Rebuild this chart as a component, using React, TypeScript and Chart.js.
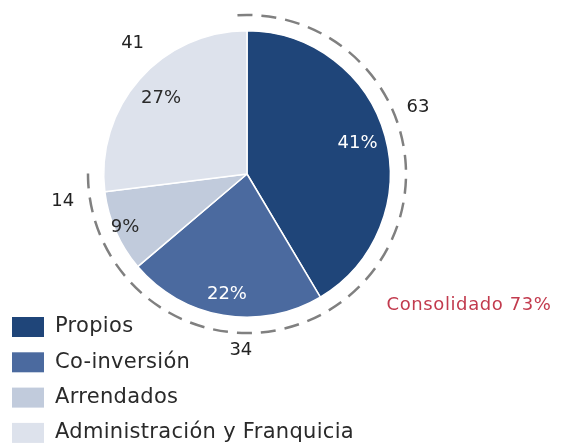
import React, { useEffect, useRef } from "react";
import { Chart, registerables } from "chart.js";

Chart.register(...registerables);

// ---- data ----
const categories = ["Propios", "Co-inversión", "Arrendados", "Administración y Franquicia"];
const values = [63, 34, 14, 41];
const percentLabels = ["41%", "22%", "9%", "27%"];
const consolidatedLabel = "Consolidado 73%";
const consolidatedSlices = 3;

// ---- styles ----
const colors = ["#1f4579", "#4b6a9f", "#c1cbdc", "#dde2ec"];
const percentColors = ["#ffffff", "#ffffff", "#2a2a2a", "#2a2a2a"];
const percentRadius = [0.8, 0.85, 0.93, 0.8];
const outerAngleDeg = [68.8, 182, 261.7, 318.7];
const outerRadius = [1.28, 1.23, 1.3, 1.21];
const FONT = "'DejaVu Sans', sans-serif";

const overlay = {
  id: "overlay",
  afterDraw(chart: any) {
    const ctx = chart.ctx;
    const meta = chart.getDatasetMeta(0);
    const arcs = meta.data as any[];
    if (!arcs.length) return;
    const a0 = arcs[0];
    const cx = a0.x;
    const cy = a0.y;
    const R = a0.outerRadius;
    ctx.save();

    // dashed arc around consolidated slices
    ctx.beginPath();
    ctx.setLineDash([15, 9]);
    ctx.lineWidth = 2.5;
    ctx.strokeStyle = "#808080";
    ctx.arc(cx, cy, R * 1.11, arcs[0].startAngle - 0.06, arcs[consolidatedSlices - 1].endAngle + 0.13);
    ctx.stroke();
    ctx.setLineDash([]);

    ctx.textAlign = "center";
    ctx.textBaseline = "middle";

    arcs.forEach((arc: any, i: number) => {
      const mid = (arc.startAngle + arc.endAngle) / 2;
      const r = R * percentRadius[i];
      ctx.font = `18px ${FONT}`;
      ctx.fillStyle = percentColors[i];
      ctx.fillText(percentLabels[i], cx + r * Math.cos(mid), cy + r * Math.sin(mid));

      const ang = (outerAngleDeg[i] * Math.PI) / 180;
      const ro = R * outerRadius[i];
      ctx.fillStyle = "#222222";
      ctx.fillText(String(values[i]), cx + ro * Math.sin(ang), cy - ro * Math.cos(ang));
    });

    // consolidated label
    ctx.font = `18px ${FONT}`;
    (ctx as any).letterSpacing = "0.6px";
    ctx.fillStyle = "#c23b4e";
    ctx.fillText(consolidatedLabel, cx + R * 1.55, cy + R * 0.92);

    // legend
    ctx.textAlign = "left";
    (ctx as any).letterSpacing = "0.3px";
    categories.forEach((c, i) => {
      const y = 327 + i * 35.3;
      ctx.fillStyle = colors[i];
      ctx.fillRect(12, y - 10, 32, 20);
      ctx.fillStyle = "#2a2a2a";
      ctx.font = `21px ${FONT}`;
      ctx.fillText(c, 55, y);
    });
    (ctx as any).letterSpacing = "0px";
    ctx.restore();
  },
};

export default function App() {
  const ref = useRef<HTMLCanvasElement>(null);
  useEffect(() => {
    if (!ref.current) return;
    const chart = new Chart(ref.current, {
      type: "pie",
      data: {
        labels: categories,
        datasets: [
          {
            data: values,
            backgroundColor: colors,
            borderColor: "#ffffff",
            borderWidth: 1.5,
            hoverOffset: 0,
          },
        ],
      },
      options: {
        responsive: false,
        animation: false,
        devicePixelRatio: 1,
        layout: { padding: { left: 103, right: 175, top: 29, bottom: 126 } },
        plugins: { legend: { display: false }, tooltip: { enabled: false } },
      },
      plugins: [overlay],
    });
    return () => chart.destroy();
  }, []);
  return (
    <div style={{ position: "fixed", left: 0, top: 0, width: 566, height: 445, background: "#fff" }}>
      <canvas ref={ref} width={566} height={445} style={{ width: 566, height: 445 }} />
    </div>
  );
}
